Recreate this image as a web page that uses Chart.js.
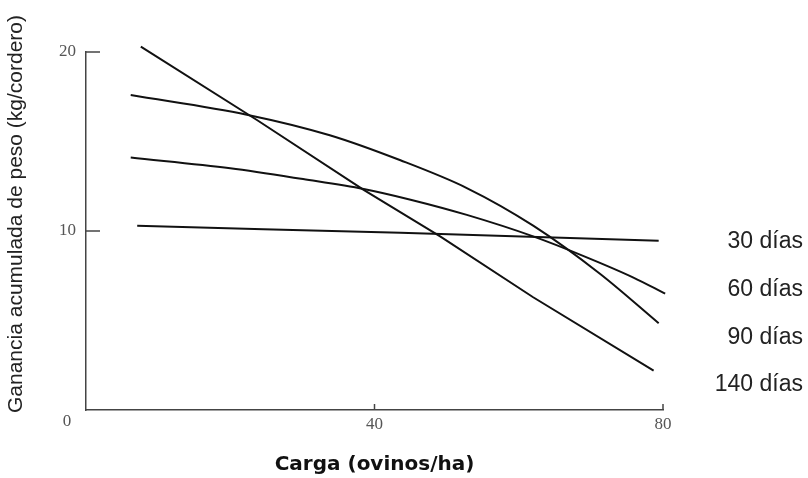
<!DOCTYPE html>
<html>
<head>
    <meta charset="utf-8">
    <title>Ganancia acumulada de peso según carga</title>
    <script src="https://cdn.jsdelivr.net/npm/chart.js"></script>
    <style>
        html, body {
            margin: 0;
            padding: 0;
            background: #fff;
        }

        #chart-container {
            width: 808px;
            height: 478px;
        }
    </style>
</head>
<body>
    <div id="chart-container">
        <canvas id="chart"></canvas>
    </div>

    <script>
        // carga (ovinos/ha) y ganancia (kg/cordero) para cada periodo
        const carga30 = [7.1, 24.6, 43.6, 79.4];
        const ganancia30 = [10.3, 10.1, 9.9, 9.45];

        const carga60 = [6.2, 20.0, 30.1, 38.5, 45.0, 52.8, 62.0, 69.0, 75.9, 80.3];
        const ganancia60 = [14.1, 13.5, 12.9, 12.35, 11.75, 10.9, 9.7, 8.6, 7.4, 6.5];

        const carga90 = [6.2, 22.3, 33.8, 43.6, 52.8, 62.0, 71.3, 79.4];
        const ganancia90 = [17.6, 16.5, 15.35, 13.95, 12.4, 10.3, 7.6, 4.85];

        const carga140 = [7.6, 23.7, 38.5, 49.1, 62.0, 78.7];
        const ganancia140 = [20.3, 16.2, 12.3, 9.7, 6.3, 2.2];

        const periodos = ['30 días', '60 días', '90 días', '140 días'];

        // marcas de los ejes
        const xTicks = [40, 80];
        const yTicks = [10, 20];

        const tituloY = 'Ganancia acumulada de peso (kg/cordero)';
        const tituloX = 'Carga (ovinos/ha)';

        function puntos(xs, ys) {
            return xs.map((x, i) => ({ x: x, y: ys[i] }));
        }

        const series = [
            { data: puntos(carga30, ganancia30), tension: 0 },
            { data: puntos(carga60, ganancia60), tension: 0.4 },
            { data: puntos(carga90, ganancia90), tension: 0.4 },
            { data: puntos(carga140, ganancia140), tension: 0 }
        ];

        const fuenteTicks = { family: 'Liberation Serif', size: 17 };

        // marcas hacia adentro, el "0" del origen, el título vertical y los rótulos de la derecha
        const extras = {
            id: 'extras',
            afterDraw(chart) {
                const ctx = chart.ctx;
                const xs = chart.scales.x;
                const ys = chart.scales.y;
                const x0 = xs.getPixelForValue(0);
                const y0 = ys.getPixelForValue(0);

                ctx.save();
                ctx.strokeStyle = '#444';
                ctx.lineWidth = 1.5;
                ys.ticks.forEach(t => {
                    const py = ys.getPixelForValue(t.value);
                    ctx.beginPath();
                    ctx.moveTo(x0, py);
                    ctx.lineTo(x0 + 14, py);
                    ctx.stroke();
                });
                xs.ticks.forEach(t => {
                    const px = xs.getPixelForValue(t.value);
                    ctx.beginPath();
                    ctx.moveTo(px, y0);
                    ctx.lineTo(px, y0 - 6);
                    ctx.stroke();
                });

                ctx.fillStyle = '#555';
                ctx.font = '17px "Liberation Serif"';
                ctx.textAlign = 'center';
                ctx.textBaseline = 'middle';
                ctx.fillText('0', x0 - 19, y0 + 12);

                ctx.fillStyle = '#222';
                ctx.font = '21px "Liberation Sans"';
                ctx.translate(16, 214);
                ctx.rotate(-Math.PI / 2);
                ctx.fillText(tituloY, 0, 0);
                ctx.restore();

                ctx.save();
                ctx.fillStyle = '#222';
                ctx.font = '23px "Liberation Sans"';
                ctx.textAlign = 'right';
                ctx.textBaseline = 'middle';
                chart.data.datasets.forEach((ds, i) => {
                    ctx.fillText(ds.label, 803, 242 + i * 47.7);
                });
                ctx.restore();
            }
        };

        const chart = new Chart(document.getElementById('chart'), {
            type: 'line',
            data: {
                datasets: series.map((s, i) => ({
                    label: periodos[i],
                    data: s.data,
                    tension: s.tension,
                    cubicInterpolationMode: s.tension ? 'monotone' : 'default',
                    borderColor: '#111',
                    borderWidth: 2,
                    pointRadius: 0,
                    fill: false,
                    clip: false
                }))
            },
            options: {
                responsive: true,
                maintainAspectRatio: false,
                animation: false,
                layout: {
                    padding: { top: 52, right: 145, bottom: 0, left: 0 }
                },
                plugins: {
                    legend: { display: false },
                    tooltip: { enabled: false }
                },
                scales: {
                    x: {
                        type: 'linear',
                        min: 0,
                        max: 80,
                        afterBuildTicks: scale => {
                            scale.ticks = xTicks.map(v => ({ value: v }));
                        },
                        afterFit: scale => {
                            scale.height = 68;
                        },
                        grid: { display: true, drawOnChartArea: false, drawTicks: false },
                        border: { display: true, color: '#444', width: 1.5 },
                        ticks: {
                            padding: 4,
                            color: '#555',
                            font: fuenteTicks,
                            maxRotation: 0
                        },
                        title: {
                            display: true,
                            text: tituloX,
                            color: '#111',
                            font: { family: 'DejaVu Sans', size: 20, weight: 'bold' },
                            padding: { top: 0, bottom: 1 }
                        }
                    },
                    y: {
                        min: 0,
                        max: 20,
                        afterBuildTicks: scale => {
                            scale.ticks = yTicks.map(v => ({ value: v }));
                        },
                        afterFit: scale => {
                            scale.width = 86;
                        },
                        grid: { display: true, drawOnChartArea: false, drawTicks: false },
                        border: { display: true, color: '#444', width: 1.5 },
                        ticks: {
                            padding: 10,
                            color: '#555',
                            font: fuenteTicks
                        }
                    }
                }
            },
            plugins: [extras]
        });
    </script>
</body>
</html>
